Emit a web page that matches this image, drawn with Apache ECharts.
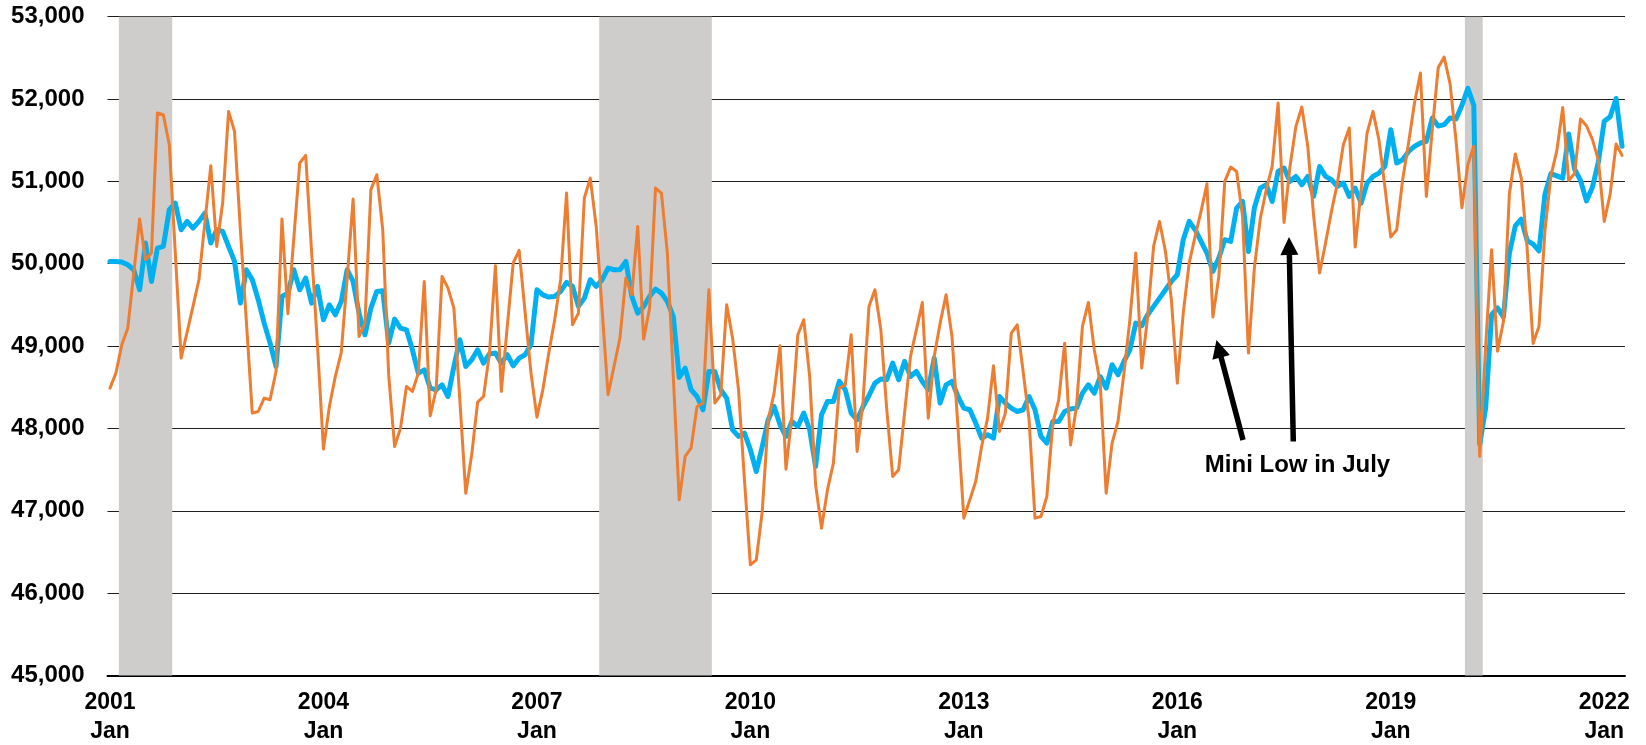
<!DOCTYPE html>
<html>
<head>
<meta charset="utf-8">
<title>Monthly level, seasonally adjusted vs not adjusted</title>
<script src="https://cdn.jsdelivr.net/npm/echarts@6/dist/echarts.min.js"></script>
<style>
  html, body { margin: 0; padding: 0; background: #fff; }
  #chart { width: 1646px; height: 745px; }
</style>
</head>
<body>
<div id="chart"></div>
<script>
// monthly values, Jan 2001 .. Apr 2022, one row per year
var startYear = 2001;

var seasAdj = [
  50028, 50028, 50020, 49988, 49927, 49684, 50251, 49785, 50190, 50210, 50656, 50737,
  50413, 50514, 50433, 50514, 50615, 50251, 50413, 50393, 50210, 50028, 49522, 49927,
  49806, 49563, 49279, 49036, 48753, 49603, 49644, 49927, 49684, 49826, 49522, 49725,
  49320, 49502, 49380, 49542, 49927, 49785, 49400, 49137, 49461, 49664, 49672, 49036,
  49328, 49218, 49198, 48955, 48672, 48712, 48490, 48470, 48530, 48388, 48753, 49077,
  48753, 48834, 48955, 48793, 48905, 48915, 48793, 48895, 48761, 48854, 48895, 49016,
  49684, 49623, 49595, 49603, 49664, 49773, 49725, 49482, 49583, 49806, 49725, 49806,
  49947, 49927, 49927, 50028, 49603, 49400, 49482, 49603, 49692, 49644, 49542, 49360,
  48620, 48733, 48470, 48388, 48226, 48692, 48692, 48470, 48368, 47984, 47903, 47943,
  47741, 47477, 47781, 48105, 48267, 48044, 47903, 48085, 48024, 48186, 47984, 47538,
  48166, 48328, 48328, 48571, 48470, 48186, 48105, 48267, 48400, 48550, 48600, 48591,
  48793, 48591, 48814, 48631, 48692, 48571, 48470, 48854, 48308, 48530, 48571, 48388,
  48247, 48227, 48065, 47882, 47923, 47882, 48388, 48308, 48247, 48206, 48227, 48388,
  48227, 47903, 47822, 48085, 48085, 48206, 48237, 48247, 48429, 48530, 48429, 48631,
  48490, 48773, 48652, 48814, 48955, 49279, 49247, 49380, 49482, 49583, 49684, 49785,
  49866, 50292, 50514, 50413, 50271, 50130, 49907, 50069, 50292, 50271, 50676, 50757,
  50150, 50680, 50919, 50960, 50757, 51122, 51162, 51000, 51061, 50960, 51061, 50818,
  51182, 51061, 51020, 50939, 50980, 50818, 50919, 50737, 50980, 51061, 51101, 51182,
  51628, 51223, 51263, 51364, 51425, 51466, 51486, 51770, 51672, 51690, 51770, 51759,
  51924, 52129, 51924, 47805, 48247, 49381, 49464, 49353, 50127, 50459, 50542, 50282,
  50238, 50155, 50846, 51095, 51067, 51040, 51576, 51150, 51012, 50763, 50929, 51233,
  51731, 51786, 52007, 51427
];

var notSeasAdj = [
  48490, 48672, 49016, 49218, 49880, 50543, 50049, 50130, 51830, 51810, 51446, 50150,
  48854, 49166, 49482, 49806, 50500, 51190, 50210, 50737, 51850, 51608, 50400, 49300,
  48186, 48206, 48368, 48348, 48692, 50543, 49393, 50308, 51223, 51316, 50150, 49000,
  47749, 48267, 48630, 48922, 49826, 50786, 49117, 49279, 50900, 51081, 50413, 48650,
  47780, 48004, 48510, 48449, 48672, 49785, 48153, 48470, 49846, 49704, 49461, 48348,
  47214, 47680, 48320, 48388, 48915, 49976, 48449, 49240, 50008, 50162, 49417, 48672,
  48137, 48470, 48915, 49320, 49806, 50858, 49259, 49400, 50798, 51040, 50453, 49441,
  48409, 48753, 49097, 49826, 49623, 50453, 49085, 49461, 50919, 50858, 50130, 48631,
  47133, 47660, 47761, 48267, 48308, 49684, 48308, 48409, 49502, 49097, 48469, 47376,
  46344, 46405, 46992, 48105, 48429, 49004, 47506, 48146, 49138, 49320, 48631, 47315,
  46789, 47255, 47579, 48490, 48530, 49138, 47721, 48328, 49482, 49684, 49200, 48230,
  47417, 47498, 48186, 48874, 49200, 49530, 48125, 48874, 49279, 49623, 49117, 48024,
  46911, 47133, 47356, 47781, 48125, 48761, 47963, 48186, 49158, 49259, 48692, 48105,
  46911, 46931, 47174, 48065, 48348, 49036, 47800, 48267, 49239, 49530, 48955, 48550,
  47214, 47822, 48085, 48672, 49320, 50130, 48733, 49360, 50211, 50514, 50150, 49563,
  48550, 49400, 50008, 50332, 50636, 50972, 49352, 49846, 51000, 51174, 51121, 50575,
  48915, 49950, 50550, 50899, 51182, 51952, 50502, 51182, 51668, 51903, 51425, 50575,
  49887, 50251, 50636, 50980, 51446, 51648, 50202, 50899, 51587, 51850, 51506, 50939,
  50324, 50413, 51020, 51466, 51952, 52316, 50818, 51628, 52380, 52510, 52185, 51500,
  50680, 51205, 51427, 47660, 49000, 50171, 48938, 49298, 50846, 51333, 51040, 50182,
  49032, 49242, 50404, 51067, 51371, 51897, 51012, 51095, 51759, 51676, 51510, 51261,
  50514, 50846, 51454, 51316
];

// x tick labels: January of every third year
var tickYears = [2001, 2004, 2007, 2010, 2013, 2016, 2019, 2022];

// recession months (first, last)
var recessions = [
  ["2001-03", "2001-11"],
  ["2007-12", "2009-06"],
  ["2020-02", "2020-04"]
];

function monthIndex(s) {
  var p = s.split("-");
  return (parseInt(p[0], 10) - startYear) * 12 + parseInt(p[1], 10) - 1;
}

function withCommas(v) {
  return String(v).replace(/\B(?=(\d{3})+(?!\d))/g, ",");
}

function toPoints(arr) {
  return arr.map(function (v, i) { return [i, v]; });
}

// arrow as a filled polygon from tail to tip
function arrowShape(tail, tip, headLen, headW, shaftW) {
  var dx = tip[0] - tail[0], dy = tip[1] - tail[1];
  var len = Math.sqrt(dx * dx + dy * dy);
  var ux = dx / len, uy = dy / len;
  var nx = -uy, ny = ux;
  var bx = tip[0] - ux * headLen, by = tip[1] - uy * headLen;
  return [
    [tail[0] + nx * shaftW / 2, tail[1] + ny * shaftW / 2],
    [bx + nx * shaftW / 2, by + ny * shaftW / 2],
    [bx + nx * headW / 2, by + ny * headW / 2],
    tip,
    [bx - nx * headW / 2, by - ny * headW / 2],
    [bx - nx * shaftW / 2, by - ny * shaftW / 2],
    [tail[0] - nx * shaftW / 2, tail[1] - ny * shaftW / 2]
  ];
}

var fontFam = '"Liberation Sans", Arial, Helvetica, sans-serif';

var chart = echarts.init(document.getElementById("chart"));

chart.setOption({
  animation: false,
  backgroundColor: "#fff",
  grid: {
    left: 107.5,
    right: 21,
    top: 16.7,
    bottom: 69.5,
    containLabel: false,
    outerBoundsMode: "none"
  },
  xAxis: {
    type: "value",
    min: -0.42,
    max: 255.5,
    axisLine: { show: true, lineStyle: { color: "#000", width: 2 } },
    axisTick: { show: false },
    splitLine: { show: false },
    axisLabel: {
      customValues: tickYears.map(function (y) { return (y - startYear) * 12; }),
      formatter: function (v) {
        return (startYear + Math.round(v / 12)) + "\nJan";
      },
      color: "#000",
      fontFamily: fontFam,
      fontWeight: "bold",
      fontSize: 23,
      lineHeight: 29,
      margin: 13
    }
  },
  yAxis: {
    type: "value",
    min: 45000,
    max: 53000,
    interval: 1000,
    axisLine: { show: false },
    axisTick: { show: false },
    splitLine: { show: true, lineStyle: { color: "#1e1e1e", width: 1.1 } },
    axisLabel: {
      formatter: withCommas,
      color: "#000",
      fontFamily: fontFam,
      fontWeight: "bold",
      fontSize: 24,
      margin: 23
    }
  },
  series: [
    {
      // recession shading, kept under the grid lines
      name: "recessions",
      type: "line",
      data: [],
      z: -1,
      silent: true,
      markArea: {
        silent: true,
        itemStyle: { color: "#cecdcc" },
        data: recessions.map(function (r) {
          return [{ xAxis: monthIndex(r[0]) - 0.5 }, { xAxis: monthIndex(r[1]) + 0.5 }];
        })
      }
    },
    {
      name: "Seasonally adjusted",
      type: "line",
      data: toPoints(seasAdj),
      showSymbol: false,
      lineStyle: { color: "#00b0f0", width: 5, join: "round", cap: "round" },
      z: 3
    },
    {
      name: "Not seasonally adjusted",
      type: "line",
      data: toPoints(notSeasAdj),
      showSymbol: false,
      lineStyle: { color: "#ed7d31", width: 3, join: "round", cap: "round" },
      z: 4
    }
  ],
  graphic: [
    {
      type: "polygon",
      silent: true,
      z: 10,
      shape: { points: arrowShape([1243, 440], [1216.5, 340], 18, 18, 5.5) },
      style: { fill: "#000" }
    },
    {
      type: "polygon",
      silent: true,
      z: 10,
      shape: { points: arrowShape([1293.3, 441.5], [1289, 237], 18, 18, 5.5) },
      style: { fill: "#000" }
    },
    {
      type: "text",
      silent: true,
      z: 10,
      style: {
        text: "Mini Low in July",
        x: 1297.5,
        y: 465,
        align: "center",
        verticalAlign: "middle",
        fill: "#000",
        fontFamily: fontFam,
        fontWeight: "bold",
        fontSize: 24
      }
    }
  ]
});
</script>
</body>
</html>
